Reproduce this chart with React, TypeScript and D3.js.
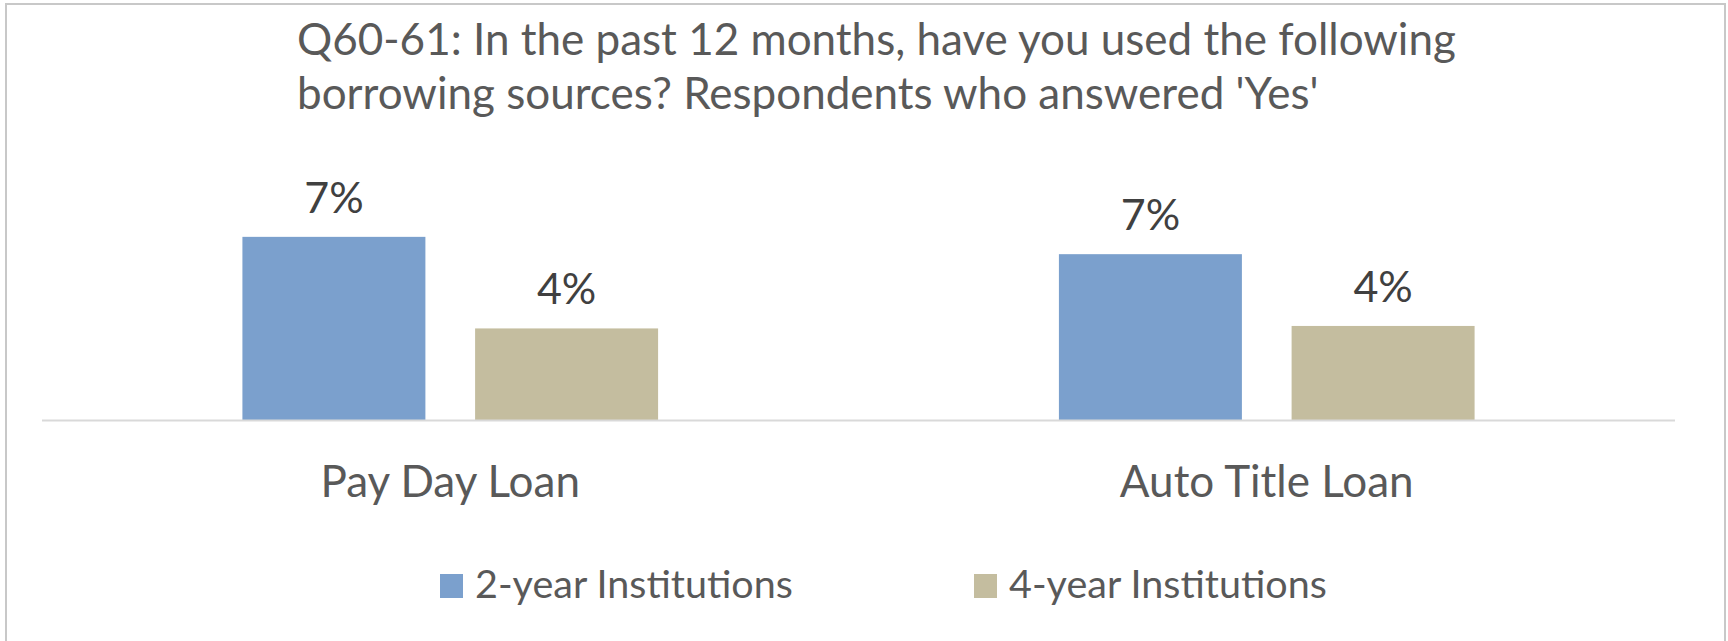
import React from "react";
import * as d3 from "d3";

const titleLines = [
  "Q60-61: In the past 12 months, have you used the following",
  "borrowing sources? Respondents who answered 'Yes'",
];
const categories = ["Pay Day Loan", "Auto Title Loan"];
const seriesNames = ["2-year Institutions", "4-year Institutions"];
const twoYear = [7.4, 6.7];
const fourYear = [3.7, 3.8];
const seriesColors = ["#7BA0CD", "#C4BD9F"];

const W = 1728;
const H = 641;
const FONT = "Lato, 'Open Sans', sans-serif";

export default function App() {
  const series = [twoYear, fourYear];
  const x0 = d3
    .scaleBand<string>()
    .domain(categories)
    .range([42, 1675])
    .paddingInner(0.4909)
    .paddingOuter(0.24545);
  const x1 = d3
    .scaleBand<string>()
    .domain(seriesNames)
    .range([0, x0.bandwidth()])
    .paddingInner(0.2136)
    .paddingOuter(0);
  const y = d3.scaleLinear().domain([0, 8]).range([420, 222]);
  const fmt = (v: number) => d3.format(".0%")(v / 100);

  const legendX = d3.scaleLinear().domain([0, 1]).range([440, 974]);

  return (
    <svg
      width={W}
      height={H}
      style={{ position: "absolute", left: 0, top: 0, background: "#fff" }}
      fontFamily={FONT}
    >
      <rect x={6} y={4} width={1719} height={700} fill="#fff" stroke="#c8c8c8" strokeWidth={2} />
      {titleLines.map((t, i) => (
        <text key={i} x={297} y={55 + i * 54} fontSize={44} fill="#595959">
          {t}
        </text>
      ))}
      {categories.map((c, ci) => (
        <g key={c} transform={`translate(${x0(c)},0)`}>
          {series.map((vals, si) => {
            const v = vals[ci];
            const bx = x1(seriesNames[si])!;
            return (
              <g key={si}>
                <rect
                  x={bx}
                  y={y(v)}
                  width={x1.bandwidth()}
                  height={y(0) - y(v)}
                  fill={seriesColors[si]}
                />
                <text
                  x={bx + x1.bandwidth() / 2}
                  y={y(v) - 24}
                  textAnchor="middle"
                  fontSize={43}
                  fill="#404040"
                >
                  {fmt(v)}
                </text>
              </g>
            );
          })}
          <text
            x={x0.bandwidth() / 2}
            y={497}
            textAnchor="middle"
            fontSize={44}
            fill="#595959"
          >
            {c}
          </text>
        </g>
      ))}
      <line x1={42} x2={1675} y1={420.5} y2={420.5} stroke="#d9d9d9" strokeWidth={2} />
      {seriesNames.map((s, i) => (
        <g key={s} transform={`translate(${legendX(i)},0)`}>
          <rect x={0} y={574} width={23} height={24} fill={seriesColors[i]} />
          <text x={35} y={598} fontSize={39.5} fill="#595959">
            {s}
          </text>
        </g>
      ))}
    </svg>
  );
}
